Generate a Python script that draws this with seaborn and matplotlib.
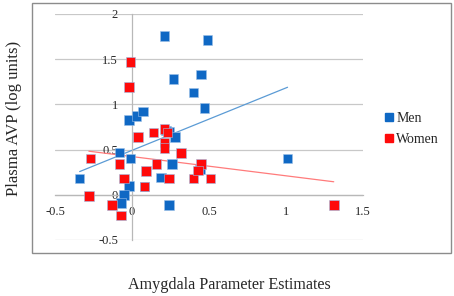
import numpy as np
import pandas as pd
import matplotlib
matplotlib.use("Agg")
import matplotlib.pyplot as plt
import seaborn as sns
from matplotlib.patches import Rectangle

# values
men_x = [0.21, 0.49, 0.27, 0.45, 0.40, 0.47, -0.02, 0.03, 0.07, 0.22, 0.24, 0.28,
         0.26, 0.19, 0.24, 0.44, 0.08, -0.02, -0.05, -0.07, -0.34, -0.08, -0.01, 1.01]
men_y = [1.76, 1.71, 1.28, 1.33, 1.13, 0.96, 0.83, 0.87, 0.92, 0.71, 0.70, 0.64,
         0.34, 0.19, -0.11, 0.28, 0.09, 0.10, 0.00, -0.09, 0.18, 0.47, 0.40, 0.40]
women_x = [-0.01, -0.02, 0.04, 0.14, 0.21, 0.23, 0.21, 0.21, 0.32, 0.16, 0.09, 0.08,
           0.24, 0.40, 0.51, 0.45, 0.43, -0.27, -0.08, -0.05, -0.28, -0.13, -0.07, 1.31]
women_y = [1.47, 1.19, 0.64, 0.69, 0.73, 0.69, 0.58, 0.52, 0.46, 0.34, 0.26, 0.09,
           0.18, 0.18, 0.18, 0.34, 0.27, 0.40, 0.34, 0.18, -0.01, -0.11, -0.23, -0.11]
x_ticks = [-0.5, 0, 0.5, 1, 1.5]
y_ticks = [-0.5, 0, 0.5, 1, 1.5, 2]
tick_labels_x = ["-0.5", "0", "0.5", "1", "1.5"]
tick_labels_y = ["-0.5", "0", "0.5", "1", "1.5", "2"]

df = pd.DataFrame({
    "x": men_x + women_x,
    "y": men_y + women_y,
    "group": ["Men"] * len(men_x) + ["Women"] * len(women_x),
})

sns.set_style("white")
plt.rcParams["font.family"] = ["Liberation Serif", "DejaVu Serif"]

blue = "#0f68c4"
red = "#ff0a0a"

fig = plt.figure(figsize=(4.54, 2.96), dpi=100)
ax = fig.add_axes([55 / 454, 1 - 240 / 296, 308 / 454, 226 / 296])

sns.scatterplot(data=df, x="x", y="y", hue="group", palette={"Men": blue, "Women": red},
                marker="s", s=48, edgecolor="#9cc0e8", linewidth=0.4, ax=ax, zorder=3,
                legend=False)
sns.regplot(x=men_x, y=men_y, scatter=False, ci=None, ax=ax,
            line_kws={"color": "#5b9bd5", "lw": 0.9, "zorder": 2})
sns.regplot(x=women_x, y=women_y, scatter=False, ci=None, ax=ax,
            line_kws={"color": "#ff7b7b", "lw": 0.9, "zorder": 2})

ax.set_xlim(-0.5, 1.5)
ax.set_ylim(-0.5, 2)
ax.set_xticks(x_ticks)
ax.set_xticklabels(tick_labels_x)
ax.set_yticks(y_ticks)
ax.set_yticklabels(tick_labels_y)
ax.set_xlabel("")
ax.set_ylabel("")

for s in ["top", "right"]:
    ax.spines[s].set_visible(False)
ax.spines["left"].set_position(("data", 0))
ax.spines["bottom"].set_position(("data", 0))
ax.spines["left"].set_color("#b8b8b8")
ax.spines["bottom"].set_color("#b8b8b8")
ax.spines["left"].set_linewidth(0.9)
ax.spines["bottom"].set_linewidth(0.9)

ax.yaxis.grid(True, color="#c8c8c8", lw=0.9)
ax.xaxis.grid(False)
ax.set_axisbelow(True)
ax.tick_params(axis="x", direction="out", length=4, width=0.8, color="#b8b8b8",
               labelsize=9, pad=4)
ax.tick_params(axis="y", length=0, labelsize=9, pad=10)

# legend to the right of the plot area
fig.legend(handles=[plt.Line2D([], [], marker="s", ls="", color=blue, markersize=5.5),
                    plt.Line2D([], [], marker="s", ls="", color=red, markersize=5.5)],
           labels=["Men", "Women"], loc="center left",
           bbox_to_anchor=(370 / 454, 1 - 129 / 296), frameon=False,
           fontsize=10, handletextpad=0.0, labelspacing=0.55, handlelength=1)

fig.text(229 / 454, 1 - 285 / 296, "Amygdala Parameter Estimates", ha="center",
         va="center", fontsize=11.6)
fig.text(14 / 454, 1 - 118 / 296, "Plasma AVP (log units)", ha="center", va="center",
         rotation=90, fontsize=12)

fig.patches.append(Rectangle((32 / 454, 1 - 253 / 296), 419 / 454, 250 / 296,
                             transform=fig.transFigure, fill=False, ec="#8c8c8c",
                             lw=1.0))

fig.savefig("out.png", dpi=100)
